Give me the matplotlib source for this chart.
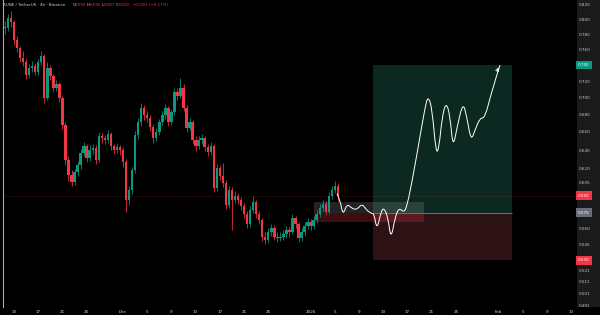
import numpy as np
import matplotlib.pyplot as plt
from matplotlib.patches import Rectangle, PathPatch
from matplotlib.path import Path
from matplotlib.ticker import NullLocator, NullFormatter

# RUNE/USDT, candles at 12h steps (x = day count from Nov 1)
first_open = 0.790
closes = [0.788, 0.802, 0.797, 0.772, 0.762, 0.749, 0.744, 0.728, 0.736, 0.739,
          0.731, 0.744, 0.752, 0.699, 0.736, 0.726, 0.712, 0.716, 0.699, 0.668,
          0.629, 0.613, 0.606, 0.616, 0.624, 0.637, 0.644, 0.631, 0.640, 0.642,
          0.629, 0.655, 0.653, 0.651, 0.658, 0.644, 0.640, 0.643, 0.640, 0.627,
          0.588, 0.598, 0.618, 0.657, 0.671, 0.688, 0.679, 0.676, 0.666, 0.653,
          0.660, 0.671, 0.679, 0.688, 0.671, 0.683, 0.707, 0.702, 0.712, 0.688,
          0.665, 0.671, 0.651, 0.644, 0.651, 0.653, 0.643, 0.638, 0.644, 0.600,
          0.621, 0.612, 0.605, 0.583, 0.598, 0.588, 0.592, 0.588, 0.582, 0.574,
          0.564, 0.578, 0.586, 0.574, 0.568, 0.552, 0.549, 0.556, 0.560, 0.552,
          0.551, 0.552, 0.554, 0.558, 0.556, 0.570, 0.564, 0.551, 0.556, 0.562,
          0.566, 0.562, 0.568, 0.574, 0.580, 0.584, 0.576, 0.592, 0.598, 0.602,
          0.592]
highs = [0.798, 0.808, 0.811, 0.799, 0.778, 0.765, 0.758, 0.748, 0.741, 0.745,
         0.743, 0.748, 0.758, 0.754, 0.744, 0.740, 0.729, 0.721, 0.719, 0.702,
         0.671, 0.634, 0.618, 0.620, 0.628, 0.641, 0.649, 0.647, 0.645, 0.647,
         0.645, 0.660, 0.659, 0.657, 0.662, 0.660, 0.647, 0.648, 0.646, 0.643,
         0.630, 0.602, 0.622, 0.661, 0.676, 0.693, 0.691, 0.684, 0.679, 0.669,
         0.665, 0.675, 0.684, 0.692, 0.690, 0.687, 0.712, 0.711, 0.724, 0.716,
         0.691, 0.676, 0.674, 0.655, 0.655, 0.658, 0.656, 0.647, 0.649, 0.647,
         0.625, 0.624, 0.626, 0.608, 0.602, 0.601, 0.597, 0.595, 0.591, 0.585,
         0.577, 0.582, 0.592, 0.588, 0.577, 0.570, 0.556, 0.560, 0.564, 0.563,
         0.556, 0.556, 0.558, 0.562, 0.561, 0.574, 0.572, 0.566, 0.560, 0.566,
         0.570, 0.569, 0.572, 0.578, 0.584, 0.588, 0.587, 0.596, 0.602, 0.607,
         0.605]
lows = [0.780, 0.784, 0.790, 0.766, 0.757, 0.744, 0.739, 0.722, 0.724, 0.731,
        0.727, 0.728, 0.740, 0.694, 0.697, 0.721, 0.707, 0.708, 0.695, 0.663,
        0.624, 0.607, 0.602, 0.603, 0.612, 0.620, 0.633, 0.627, 0.628, 0.636,
        0.625, 0.627, 0.648, 0.647, 0.648, 0.640, 0.636, 0.637, 0.635, 0.622,
        0.576, 0.583, 0.594, 0.615, 0.652, 0.667, 0.674, 0.671, 0.661, 0.648,
        0.650, 0.657, 0.668, 0.675, 0.667, 0.668, 0.680, 0.697, 0.699, 0.684,
        0.660, 0.662, 0.647, 0.639, 0.641, 0.647, 0.639, 0.633, 0.635, 0.596,
        0.597, 0.608, 0.601, 0.579, 0.580, 0.558, 0.585, 0.584, 0.578, 0.570,
        0.560, 0.561, 0.575, 0.570, 0.564, 0.548, 0.545, 0.546, 0.553, 0.549,
        0.547, 0.548, 0.549, 0.551, 0.552, 0.554, 0.560, 0.547, 0.548, 0.553,
        0.559, 0.558, 0.559, 0.565, 0.571, 0.577, 0.573, 0.574, 0.589, 0.595,
        0.587]

last_price = 0.592
entry, target, stop = 0.575, 0.740, 0.530
tool_start, tool_end = 72.3, 95.3
zone_start, zone_end, zone_top, zone_bottom = 62.55, 80.7, 0.586, 0.566

# hand drawn projection (day, price)
proj_days = [66.35, 66.85, 67.34, 68.00, 68.83, 69.66, 70.48, 71.31, 72.13, 72.47,
             72.96, 73.62, 74.12, 74.78, 75.27, 75.93, 76.59, 77.42, 77.92, 78.74,
             79.73, 80.89, 81.38, 82.05, 82.71, 83.20, 83.70, 84.36, 85.02, 85.51,
             86.18, 87.17, 87.83, 88.49, 89.15, 89.97, 90.80, 91.96, 93.28]
proj_prices = [0.594, 0.588, 0.572, 0.584, 0.579, 0.578, 0.584, 0.577, 0.574, 0.574,
               0.558, 0.576, 0.580, 0.570, 0.549, 0.570, 0.580, 0.575, 0.582, 0.606,
               0.642, 0.688, 0.702, 0.688, 0.636, 0.642, 0.676, 0.695, 0.679, 0.642,
               0.665, 0.695, 0.676, 0.650, 0.662, 0.676, 0.676, 0.709, 0.740]

xtick_days = [13, 17, 21, 25, 31, 35, 39, 43, 47, 51, 55, 62, 66, 70, 74, 78, 82, 86,
              93, 97, 101, 105]
xtick_labels = ['13', '17', '21', '25', 'Dec', '5', '9', '13', '17', '21', '25', '2026',
                '5', '9', '13', '17', '21', '25', 'Feb', '5', '9', '13']
ytick_vals = [0.820, 0.800, 0.780, 0.760, 0.720, 0.700, 0.680, 0.660, 0.640, 0.620,
              0.605, 0.560, 0.545, 0.533, 0.521, 0.511, 0.501, 0.491]

UP, DOWN = '#089981', '#f23645'
TXT = '#d1d4dc'

fig = plt.figure(figsize=(6, 3.15), dpi=100, facecolor='black')
# right price scale panel
fig.patches.append(Rectangle((577 / 600, 8 / 315), 23 / 600, 307 / 315,
                             transform=fig.transFigure, fc='#1b1b1b', ec='none', zorder=-1))
ax = fig.add_axes([3 / 600, 8 / 315, 574 / 600, 307 / 315], facecolor='black')

# candles
days = 11.5 + 0.5 * np.arange(len(closes))
opens = np.array([first_open] + closes[:-1])
closes_a = np.array(closes)
colors = [UP if c >= o else DOWN for o, c in zip(opens, closes_a)]
ax.vlines(days, lows, highs, colors=colors, lw=0.55, zorder=3)
ax.bar(days, np.abs(closes_a - opens), bottom=np.minimum(opens, closes_a),
       width=0.4, color=colors, lw=0, zorder=4)

# long position tool
ax.add_patch(Rectangle((tool_start, entry), tool_end - tool_start, target - entry,
                       fc='#0b2821', ec='none', zorder=1))
ax.add_patch(Rectangle((tool_start, stop), tool_end - tool_start, entry - stop,
                       fc='#2c1115', ec='none', zorder=1))
ax.hlines(entry, tool_start, tool_end, color='#7a7d86', lw=0.6, zorder=2)

# entry zone box
ax.add_patch(Rectangle((zone_start, entry), zone_end - zone_start, zone_top - entry,
                       fc='#a0a0a0', alpha=0.22, ec='none', zorder=2))
ax.add_patch(Rectangle((zone_start, zone_bottom), zone_end - zone_start, entry - zone_bottom,
                       fc='#f23645', alpha=0.25, ec='none', zorder=2))

# last price line
ax.axhline(last_price, color=DOWN, alpha=0.35, lw=0.5, ls=(0, (1, 1)), zorder=2)

# projected path as a smooth quadratic spline through the drawn points
pts = list(zip(proj_days, proj_prices))
verts, codes = [pts[0]], [Path.MOVETO]
for i in range(1, len(pts) - 2):
    mid = ((pts[i][0] + pts[i + 1][0]) / 2, np.sqrt(pts[i][1] * pts[i + 1][1]))
    verts += [pts[i], mid]
    codes += [Path.CURVE3, Path.CURVE3]
verts += [pts[-2], pts[-1]]
codes += [Path.CURVE3, Path.CURVE3]
ax.add_patch(PathPatch(Path(verts, codes), fill=False, ec='white', lw=0.7, zorder=5))
ax.annotate('', xy=pts[-1], xytext=(proj_days[-2] + 0.6, proj_prices[-2] + 0.02),
            arrowprops=dict(arrowstyle='->', color='white', lw=0.7, mutation_scale=5),
            zorder=5)

ax.set_yscale('log')
ax.set_ylim(0.4894, 0.827)
ax.set_xlim(11.18, 106.0)
ax.yaxis.set_minor_locator(NullLocator())
ax.yaxis.set_minor_formatter(NullFormatter())
ax.yaxis.tick_right()
ax.set_yticks(ytick_vals)
ax.set_yticklabels(['%.3f' % v for v in ytick_vals])
ax.set_xticks(xtick_days)
ax.set_xticklabels(xtick_labels)
ax.tick_params(axis='y', length=0, pad=1.5, labelsize=3, labelcolor='#c5c8ce')
ax.tick_params(axis='x', length=0, pad=2, labelsize=3, labelcolor=TXT)
for s in ['top', 'right', 'bottom']:
    ax.spines[s].set_visible(False)
ax.spines['left'].set_color('#a8a8a8')
ax.spines['left'].set_linewidth(0.8)

# highlighted price labels
for val, col in [(target, UP), (last_price, DOWN), (entry, '#6a6d78'), (stop, DOWN)]:
    ax.text(1.0015, val, '%.3f' % val, transform=ax.get_yaxis_transform(), fontsize=3,
            color='white', va='center', ha='left', clip_on=False, zorder=6,
            bbox=dict(boxstyle='square,pad=0.55', fc=col, ec='none'))

# header
hy = 1 - 4.5 / 315
fig.text(3 / 600, hy, 'RUNE / TetherUS · 4h · Binance', fontsize=2.9, color=TXT, va='center')
for x, lab, val in [(72.5, 'O', '0.593'), (87, 'H', '0.595'), (101.5, 'L', '0.587'),
                    (116, 'C', '0.592')]:
    fig.text(x / 600, hy, lab, fontsize=2.9, color=TXT, va='center')
    fig.text((x + 2.6) / 600, hy, val, fontsize=2.9, color=DOWN, va='center')
fig.text(133 / 600, hy, '−0.001 (−0.17%)', fontsize=2.9, color=DOWN, va='center')

fig.savefig('out.png', dpi=100, facecolor='black')
